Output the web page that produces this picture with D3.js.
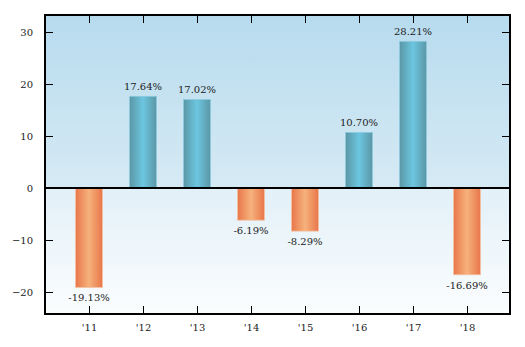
<!DOCTYPE html>
<html>
<head>
<meta charset="utf-8">
<script src="https://cdn.jsdelivr.net/npm/d3@7"></script>
<style>
  html, body { margin: 0; padding: 0; background: #fff; }
  svg { display: block; }
  text { font-family: "DejaVu Serif", serif; fill: #222; }
</style>
</head>
<body>
<svg id="chart" width="525" height="347"></svg>
<script>
// Annual returns, percent
const years = ["'11", "'12", "'13", "'14", "'15", "'16", "'17", "'18"];
const returns = [-19.13, 17.64, 17.02, -6.19, -8.29, 10.70, 28.21, -16.69];
const yTicks = [-20, -10, 0, 10, 20, 30];

const W = 525, H = 347;
const m = { left: 45, right: 15, top: 15, bottom: 33 };
const svg = d3.select("#chart");
const defs = svg.append("defs");

const x = d3.scaleLinear().domain([-0.815, 7.796]).range([m.left, W - m.right]);
const y = d3.scaleLinear().domain([-24.23, 33.27]).range([H - m.bottom, m.top]);

// Background gradients: blue above zero, pale below
const gTop = defs.append("linearGradient").attr("id", "bgTop").attr("x1", 0).attr("y1", 0).attr("x2", 0).attr("y2", 1);
gTop.append("stop").attr("offset", "0%").attr("stop-color", "#b7dbee");
gTop.append("stop").attr("offset", "100%").attr("stop-color", "#d6eaf4");
const gBot = defs.append("linearGradient").attr("id", "bgBot").attr("x1", 0).attr("y1", 0).attr("x2", 0).attr("y2", 1);
gBot.append("stop").attr("offset", "0%").attr("stop-color", "#e2f0f8");
gBot.append("stop").attr("offset", "100%").attr("stop-color", "#fbfdfe");

// Bar gradients: darker edges, lighter centre
function barGrad(id, edge, mid) {
  const g = defs.append("linearGradient").attr("id", id).attr("x1", 0).attr("y1", 0).attr("x2", 1).attr("y2", 0);
  g.append("stop").attr("offset", "0%").attr("stop-color", edge);
  g.append("stop").attr("offset", "50%").attr("stop-color", mid);
  g.append("stop").attr("offset", "100%").attr("stop-color", edge);
}
barGrad("barPos", "#5b97a6", "#6cc6e0");
barGrad("barNeg", "#e8764a", "#f6b27c");

const x0 = x.range()[0], x1 = x.range()[1];
svg.append("rect").attr("x", x0).attr("y", y(y.domain()[1]))
  .attr("width", x1 - x0).attr("height", y(0) - y(y.domain()[1])).attr("fill", "url(#bgTop)");
svg.append("rect").attr("x", x0).attr("y", y(0))
  .attr("width", x1 - x0).attr("height", y(y.domain()[0]) - y(0)).attr("fill", "url(#bgBot)");

// Bars
const bw = x(0.25) - x(-0.25);
svg.selectAll("rect.bar").data(returns).join("rect")
  .attr("class", "bar")
  .attr("x", (d, i) => x(i) - bw / 2)
  .attr("y", d => y(Math.max(0, d)))
  .attr("width", bw)
  .attr("height", d => Math.abs(y(d) - y(0)))
  .attr("fill", d => d >= 0 ? "url(#barPos)" : "url(#barNeg)")
  .attr("stroke", d => d >= 0 ? "#8ccbe0" : "#f4c3a6")
  .attr("stroke-width", 0.8);

// Value labels
svg.selectAll("text.val").data(returns).join("text")
  .attr("class", "val")
  .attr("x", (d, i) => x(i))
  .attr("y", d => d >= 0 ? y(d) - 6.5 : y(d) + 14)
  .attr("text-anchor", "middle")
  .attr("font-size", 10)
  .text(d => d.toFixed(2) + "%");

// Zero line
svg.append("line").attr("x1", x0).attr("x2", x1).attr("y1", y(0)).attr("y2", y(0))
  .attr("stroke", "#000").attr("stroke-width", 2);

// Axes with inward ticks on all four sides
const yAxisL = d3.axisLeft(y).tickValues(yTicks).tickSizeInner(-8).tickSizeOuter(0).tickPadding(12)
  .tickFormat(d => d < 0 ? "\u2212" + Math.abs(d) : d);
const yAxisR = d3.axisRight(y).tickValues(yTicks).tickSizeInner(-8).tickSizeOuter(0).tickFormat("");
const xAxisB = d3.axisBottom(x).tickValues(d3.range(years.length)).tickSizeInner(-8).tickSizeOuter(0)
  .tickPadding(10).tickFormat(i => years[i]);
const xAxisT = d3.axisTop(x).tickValues(d3.range(years.length)).tickSizeInner(-8).tickSizeOuter(0).tickFormat("");

function styleAxis(g) {
  g.select(".domain").remove();
  g.selectAll(".tick line").attr("stroke", "#000").attr("stroke-width", 1);
  g.selectAll(".tick text").attr("font-family", "DejaVu Serif, serif").attr("font-size", 10).attr("fill", "#222");
}
svg.append("g").attr("transform", `translate(${x0},0)`).call(yAxisL).call(styleAxis);
svg.append("g").attr("transform", `translate(${x1},0)`).call(yAxisR).call(styleAxis);
svg.append("g").attr("transform", `translate(0,${y.range()[0]})`).call(xAxisB).call(styleAxis);
svg.append("g").attr("transform", `translate(0,${y.range()[1]})`).call(xAxisT).call(styleAxis);

// Frame
svg.append("rect").attr("x", x0).attr("y", y.range()[1])
  .attr("width", x1 - x0).attr("height", y.range()[0] - y.range()[1])
  .attr("fill", "none").attr("stroke", "#000").attr("stroke-width", 2);
</script>
</body>
</html>
